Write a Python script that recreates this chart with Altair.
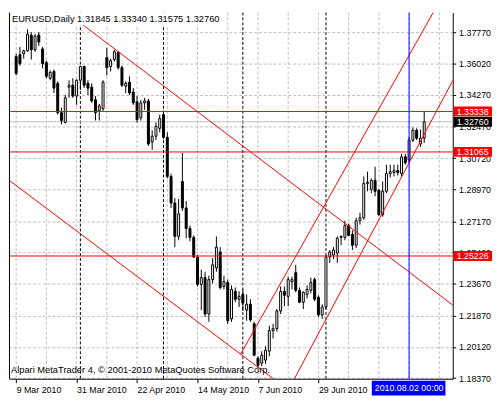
import altair as alt
import pandas as pd

# ---- data (EURUSD daily, 9 Mar 2010 .. 6 Aug 2010) ----
opens = [1.3642,1.3652,1.3658,1.3674,1.3762,1.3680,1.3762,1.3685,1.3608,1.3520,
         1.3558,1.3492,1.3327,1.3272,1.3470,1.3481,1.3420,1.3509,1.3586,1.3492,
         1.3470,1.3399,1.3338,1.3349,1.3636,1.3586,1.3625,1.3663,1.3580,1.3476,
         1.3498,1.3443,1.3388,1.3299,1.3382,1.3393,1.3162,1.3195,1.3239,1.3316,
         1.3189,1.2969,1.2820,1.2633,1.2941,1.2792,1.2677,1.2627,1.2517,1.2363,
         1.2401,1.2197,1.2390,1.2456,1.2545,1.2352,1.2374,1.2170,1.2324,1.2280,
         1.2307,1.2219,1.2252,1.2142,1.1949,1.1921,1.1938,1.1988,1.2104,1.2115,
         1.2214,1.2324,1.2296,1.2379,1.2429,1.2330,1.2263,1.2307,1.2330,1.2390,
         1.2291,1.2192,1.2236,1.2517,1.2528,1.2539,1.2627,1.2627,1.2693,1.2644,
         1.2583,1.2721,1.2737,1.2930,1.2897,1.2947,1.2892,1.2754,1.2886,1.2985,
         1.2991,1.3002,1.2985,1.3079,1.3062,1.3173,1.3228,1.3151,1.31845]
highs = [1.3658,1.3696,1.3680,1.3795,1.3779,1.3768,1.3779,1.3696,1.3619,1.3564,
         1.3569,1.3503,1.3354,1.3426,1.3509,1.3520,1.3514,1.3591,1.3591,1.3509,
         1.3492,1.3420,1.3376,1.3509,1.3691,1.3630,1.3680,1.3674,1.3591,1.3503,
         1.3531,1.3465,1.3420,1.3399,1.3410,1.3404,1.3228,1.3272,1.3316,1.3338,
         1.3217,1.2985,1.2847,1.2842,1.3101,1.2831,1.2693,1.2638,1.2528,1.2445,
         1.2434,1.2412,1.2511,1.2633,1.2572,1.2412,1.2390,1.2357,1.2346,1.2324,
         1.2335,1.2307,1.2280,1.2153,1.1960,1.1988,1.2016,1.2131,1.2142,1.2225,
         1.2352,1.2352,1.2407,1.2407,1.2473,1.2346,1.2324,1.2357,1.2401,1.2401,
         1.2302,1.2252,1.2528,1.2556,1.2572,1.2633,1.2638,1.2721,1.2704,1.2666,
         1.2737,1.2765,1.2969,1.2996,1.2958,1.3024,1.2897,1.2941,1.3035,1.3035,
         1.3035,1.3035,1.3096,1.3096,1.3189,1.3244,1.3239,1.3233,1.33340]
lows = [1.3536,1.3591,1.3630,1.3669,1.3625,1.3669,1.3702,1.3575,1.3520,1.3509,
        1.3437,1.3316,1.3261,1.3266,1.3410,1.3410,1.3371,1.3454,1.3465,1.3426,
        1.3382,1.3283,1.3283,1.3338,1.3536,1.3558,1.3614,1.3569,1.3470,1.3437,
        1.3426,1.3371,1.3272,1.3283,1.3343,1.3140,1.3118,1.3173,1.3217,1.3178,
        1.2958,1.2792,1.2572,1.2611,1.2776,1.2622,1.2605,1.2511,1.2352,1.2219,
        1.2181,1.2153,1.2368,1.2434,1.2335,1.2335,1.2142,1.2153,1.2263,1.2236,
        1.2214,1.2159,1.2153,1.1960,1.1894,1.1905,1.1916,1.1960,1.2060,1.2098,
        1.2197,1.2241,1.2241,1.2335,1.2319,1.2258,1.2225,1.2285,1.2313,1.2269,
        1.2181,1.2170,1.2225,1.2484,1.2506,1.2484,1.2583,1.2611,1.2633,1.2556,
        1.2567,1.2699,1.2726,1.2886,1.2875,1.2858,1.2748,1.2743,1.2875,1.2963,
        1.2969,1.2974,1.2969,1.3035,1.3046,1.3162,1.3173,1.3134,1.31575]
closes = [1.3547,1.3602,1.3674,1.3768,1.3680,1.3757,1.3724,1.3602,1.3531,1.3553,
          1.3465,1.3327,1.3283,1.3410,1.3481,1.3420,1.3509,1.3586,1.3481,1.3465,
          1.3393,1.3327,1.3365,1.3498,1.3580,1.3619,1.3669,1.3580,1.3481,1.3492,
          1.3437,1.3382,1.3288,1.3382,1.3393,1.3151,1.3195,1.3250,1.3294,1.3189,
          1.2969,1.2820,1.2633,1.2759,1.2792,1.2677,1.2627,1.2517,1.2363,1.2401,
          1.2197,1.2390,1.2473,1.2572,1.2346,1.2379,1.2159,1.2335,1.2280,1.2296,
          1.2258,1.2252,1.2164,1.1966,1.1910,1.1966,1.1994,1.2104,1.2115,1.2214,
          1.2324,1.2302,1.2390,1.2390,1.2330,1.2263,1.2319,1.2335,1.2374,1.2280,
          1.2192,1.2236,1.2517,1.2545,1.2556,1.2622,1.2633,1.2693,1.2638,1.2583,
          1.2721,1.2737,1.2930,1.2936,1.2947,1.2886,1.2754,1.2886,1.2985,1.2996,
          1.3002,1.2991,1.3079,1.3046,1.3173,1.3228,1.3184,1.3184,1.32760]

tick_idx = [0, 16, 32, 48, 64, 80]
tick_lbl = ["9 Mar 2010", "31 Mar 2010", "22 Apr 2010", "14 May 2010",
            "7 Jun 2010", "29 Jun 2010"]
grid_idx = [0, 8, 16, 24, 32, 40, 48, 56, 64, 72, 80, 88, 96, 104, 112]
separator_idx = [17, 39, 60, 82]
crosshair_idx = [104]
crosshair_lbl = ["2010.08.02 00:00"]
price_ticks = [1.18370, 1.20120, 1.21870, 1.23670, 1.25420, 1.27170,
               1.28970, 1.30720, 1.32470, 1.34270, 1.36020, 1.37770]
level_prices = [1.33338, 1.31065, 1.25226]
bid_price = [1.32760]
line_id = ["t1", "t1", "t2", "t2", "ca", "ca", "cb", "cb"]
line_idx = [10, 116, -2, 70, 59.4, 113, 70, 116]
line_price = [1.3943, 1.2240, 1.2950, 1.1803, 1.1971, 1.3988, 1.1688, 1.3525]
header_txt = ["EURUSD,Daily  1.31845 1.33340 1.31575 1.32760"]
copyright_txt = ["Alpari MetaTrader 4, \u00a9 2001-2010 MetaQuotes Software Corp."]

W, H = 452, 373
FONT = "Liberation Sans"
FS = 9

candles = pd.DataFrame({
    "idx": list(range(len(opens))),
    "open": opens, "high": highs, "low": lows, "close": closes,
})
candles["fillc"] = ["white" if c >= o else "black" for o, c in zip(opens, closes)]

xs = alt.Scale(domain=[-0.6, 114.25], nice=False, zero=False)
ys = alt.Scale(domain=[1.18337, 1.38889], nice=False, zero=False)

label_expr = " : ".join(
    f"datum.value == {i} ? '{t}'" for i, t in zip(tick_idx, tick_lbl)
) + " : ''"

x_axis = alt.Axis(values=tick_idx, labelExpr=label_expr, labelAlign="left",
                  labelPadding=3, tickSize=4, tickColor="black",
                  domainColor="black", labelFont=FONT, labelFontSize=FS,
                  labelColor="black", grid=False, title=None,
                  labelOverlap=False, labelFlush=False, labelBound=False)
y_axis = alt.Axis(orient="right", values=price_ticks, format=".5f", grid=True,
                  gridColor="#c0c0c0", gridDash=[3, 2], tickSize=3,
                  tickColor="black", domainColor="black", labelPadding=3,
                  labelFont=FONT, labelFontSize=FS, labelColor="black",
                  title=None, labelOverlap=False, labelFlush=False,
                  labelBound=False)


def X(field):
    return alt.X(field, scale=xs, axis=x_axis)


def Y(field):
    return alt.Y(field, scale=ys, axis=y_axis)


# vertical grid
vgrid = alt.Chart(pd.DataFrame({"g": grid_idx})).mark_rule(
    color="#c0c0c0", strokeDash=[3, 2], strokeWidth=1
).encode(x=X("g:Q"))

seps = alt.Chart(pd.DataFrame({"s": separator_idx})).mark_rule(
    color="black", strokeDash=[3, 2], strokeWidth=1
).encode(x=X("s:Q"))

bidline = alt.Chart(pd.DataFrame({"p": bid_price})).mark_rule(
    color="#c0c0c0", strokeWidth=1
).encode(y=Y("p:Q"))

wicks = alt.Chart(candles).mark_rule(color="black", strokeWidth=1, clip=True).encode(
    x=X("idx:Q"), y=Y("low:Q"), y2="high:Q",
)

bodies = alt.Chart(candles).mark_bar(size=2, stroke="black", strokeWidth=1,
                                     clip=True).encode(
    x=X("idx:Q"), y=Y("open:Q"), y2="close:Q",
    fill=alt.Fill("fillc:N", scale=None),
)

levels = alt.Chart(pd.DataFrame({"p": level_prices})).mark_rule(
    color="#ff0000", strokeWidth=1
).encode(y=Y("p:Q"))

trend = alt.Chart(pd.DataFrame({"id": line_id, "i": line_idx, "p": line_price})
                  ).mark_line(color="#ff0000", strokeWidth=1, clip=True).encode(
    x=X("i:Q"), y=Y("p:Q"), detail="id:N",
)

cross = alt.Chart(pd.DataFrame({"c": crosshair_idx})).mark_rule(
    color="#0000ff", strokeWidth=1
).encode(x=X("c:Q"))

header_bg = alt.Chart(pd.DataFrame({"t": header_txt})).mark_rect(
    color="white"
).encode(x=alt.value(1), x2=alt.value(214), y=alt.value(0), y2=alt.value(13))
header = alt.Chart(pd.DataFrame({"t": header_txt})).mark_text(
    align="left", baseline="middle", font=FONT, fontSize=FS + 0.5,
    color="black"
).encode(x=alt.value(3), y=alt.value(6.5), text="t:N")

copyright_ = alt.Chart(pd.DataFrame({"t": copyright_txt})).mark_text(
    align="left", baseline="alphabetic", font=FONT, fontSize=FS + 0.5,
    color="black"
).encode(x=alt.value(2), y=alt.value(H - 6), text="t:N")

lvl_df = pd.DataFrame({"p": level_prices,
                       "lbl": [f"{v:.5f}" for v in level_prices]})
bid_df = pd.DataFrame({"p": bid_price, "lbl": [f"{v:.5f}" for v in bid_price]})

lvl_boxes = alt.Chart(lvl_df).mark_rect(color="#ff0000", yOffset=-5,
                                        y2Offset=5).encode(
    y=Y("p:Q"), y2="p:Q", x=alt.value(W + 1), x2=alt.value(W + 40),
)
bid_box = alt.Chart(bid_df).mark_rect(color="#000000", yOffset=-5,
                                      y2Offset=5).encode(
    y=Y("p:Q"), y2="p:Q", x=alt.value(W + 1), x2=alt.value(W + 40),
)
lvl_text = alt.Chart(pd.concat([lvl_df, bid_df])).mark_text(
    align="left", baseline="middle", font=FONT, fontSize=FS, color="white", dy=0.5
).encode(y=Y("p:Q"), x=alt.value(W + 4), text="lbl:N")

cross_df = pd.DataFrame({"c": crosshair_idx, "lbl": crosshair_lbl})
cross_box = alt.Chart(cross_df).mark_rect(color="#0000ff", xOffset=-38,
                                          x2Offset=37).encode(
    x=X("c:Q"), x2="c:Q",
    y=alt.value(H + 2), y2=alt.value(H + 17),
)
cross_text = alt.Chart(cross_df).mark_text(
    align="center", baseline="middle", font=FONT, fontSize=FS, color="white"
).encode(x=X("c:Q"), y=alt.value(H + 9.5), text="lbl:N")

left_frame = alt.Chart(pd.DataFrame({"t": header_txt})).mark_rule(
    color="black", strokeWidth=1
).encode(x=alt.value(0.5), y=alt.value(0), y2=alt.value(H))

chart = alt.layer(
    vgrid, seps, bidline, wicks, bodies, levels, trend, cross,
    header_bg, header, copyright_, lvl_boxes, bid_box, lvl_text, cross_box,
    cross_text, left_frame,
).properties(
    width=W, height=H,
    padding={"left": 0, "top": 0, "right": 0, "bottom": 0},
    background="white",
).configure_view(stroke=None).configure_axis(labelFont=FONT)

chart.save("out.html", embed_options={"renderer": "svg", "actions": False})
